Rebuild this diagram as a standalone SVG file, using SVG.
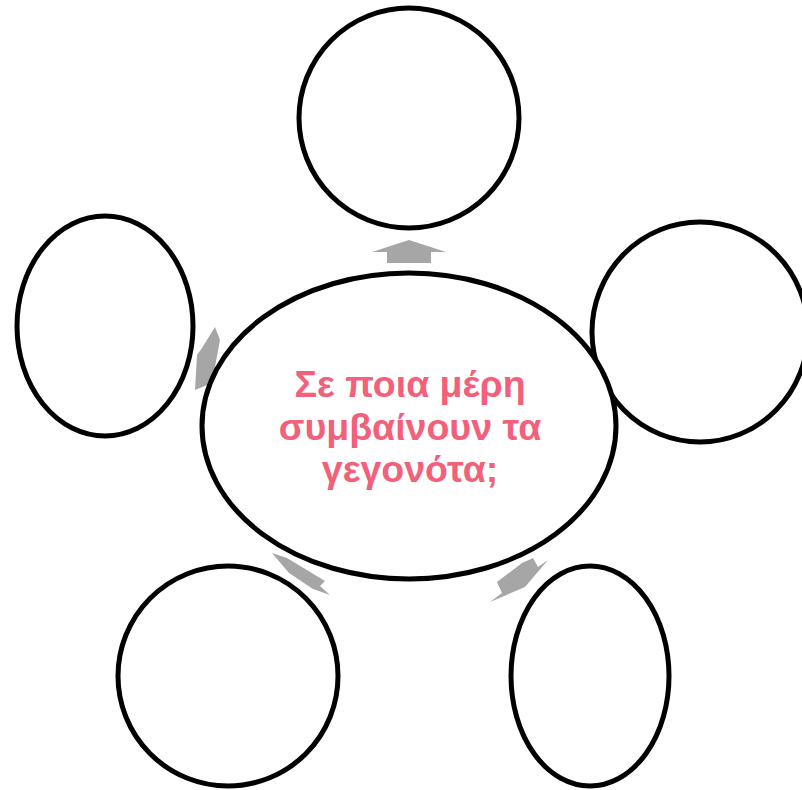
<svg xmlns="http://www.w3.org/2000/svg" width="802" height="790" viewBox="0 0 802 790">
<style>
.n{fill:#fff;stroke:#000;stroke-width:5}
.a{fill:#a6a6a6;stroke:none}
.t{font-family:"Liberation Sans","DejaVu Sans",sans-serif;font-weight:bold;font-size:37.5px;fill:#f2607a;text-anchor:middle}
</style>
<rect width="802" height="790" fill="#fff"/>
<g id="connectors">
<polygon class="a" points="409,240 446,252 431,252 431,263 387,263 387,252 372,252"/>
<polygon class="a" points="215,327 220,340 212,383 195,390 197,355 202,348"/>
<polygon class="a" points="272,553 287,558 325,581 320,586 330,595 313,589 289,573"/>
<polygon class="a" points="548,560 525,587 490,602 502,593 497,582 522,563 533,558 538,567"/>
</g>
<g id="top"><ellipse class="n" cx="409" cy="118" rx="110" ry="110"/></g>
<g id="right"><ellipse class="n" cx="700" cy="332" rx="108" ry="110"/></g>
<g id="left"><ellipse class="n" cx="105" cy="326" rx="88" ry="110"/></g>
<g id="bottom-left"><ellipse class="n" cx="228" cy="676" rx="110" ry="110"/></g>
<g id="bottom-right"><ellipse class="n" cx="590" cy="676" rx="79" ry="110"/></g>
<g id="center">
<ellipse class="n" cx="409" cy="426" rx="207" ry="153"/>
<text class="t" x="410" y="397">Σε ποια μέρη</text>
<text class="t" x="410" y="440">συμβαίνουν τα</text>
<text class="t" x="410" y="482">γεγονότα;</text>
</g>
</svg>
